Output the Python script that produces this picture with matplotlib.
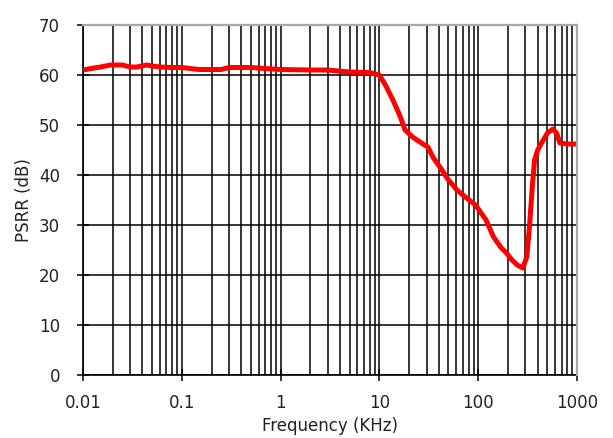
import matplotlib.pyplot as plt
from matplotlib.ticker import LogLocator, NullFormatter

# PSRR vs frequency (KHz)
freq = [0.01, 0.012, 0.015, 0.019, 0.025, 0.03, 0.035, 0.044, 0.05, 0.06, 0.08,
        0.1, 0.15, 0.2, 0.25, 0.3, 0.5, 0.7, 1, 2, 3, 5, 8, 10, 11.5,
        13.7, 16, 18.2, 22, 27.6, 31, 35, 41.6, 50, 61, 75, 94, 120, 143,
        170, 193, 220, 248, 283, 310, 330, 355, 372, 400, 437, 503, 570,
        622, 670, 800, 1000]
psrr = [61.0, 61.3, 61.6, 62.0, 62.0, 61.6, 61.6, 62.0, 61.8, 61.6, 61.5,
        61.5, 61.1, 61.1, 61.1, 61.5, 61.5, 61.3, 61.1, 61.0, 61.0, 60.6, 60.5, 60.0, 58.0,
        55.0, 52.0, 49.0, 47.5, 46.2, 45.6, 43.5, 41.4, 39.0, 37.0, 35.5, 34.0, 31.0, 27.6,
        25.5, 24.4, 23.0, 22.0, 21.4, 23.6, 29.6, 38.4, 43.0, 45.0, 46.4, 48.4, 49.2,
        48.4, 46.4, 46.2, 46.2]

fig = plt.figure(figsize=(6.13, 4.38), dpi=100)
ax = fig.add_axes([0.1354, 0.1438, 0.8059, 0.7991])

ax.plot(freq, psrr, color='#ff0000', linewidth=3.6, solid_capstyle='butt', zorder=3)

ax.set_xscale('log')
ax.set_xlim(0.01, 1000)
ax.set_ylim(0, 70)
ax.set_xticks([0.01, 0.1, 1, 10, 100, 1000])
ax.set_xticklabels(['0.01', '0.1', '1', '10', '100', '1000'])
ax.xaxis.set_minor_locator(LogLocator(base=10, subs=range(2, 10), numticks=20))
ax.xaxis.set_minor_formatter(NullFormatter())
ax.set_yticks(range(0, 71, 10))

ax.grid(which='both', color='black', linewidth=1.1)
ax.tick_params(which='major', direction='inout', length=9, width=1.1, color='black',
               labelsize=12, labelcolor='#222222')
ax.tick_params(which='minor', length=0)
ax.tick_params(axis='x', pad=9)
ax.tick_params(axis='y', pad=12)

# light frame on top/right, wide enough to cover the grid line beneath
for side in ('top', 'right'):
    ax.spines[side].set_color('#a8a8a8')
    ax.spines[side].set_linewidth(1.6)
    ax.spines[side].set_zorder(4)
for side in ('left', 'bottom'):
    ax.spines[side].set_color('black')
    ax.spines[side].set_linewidth(1.2)

ax.set_xlabel('Frequency (KHz)', fontsize=12, color='#222222', labelpad=4)
ax.set_ylabel('PSRR (dB)', fontsize=12, color='#222222', labelpad=4)

fig.savefig('out.png', dpi=100)
